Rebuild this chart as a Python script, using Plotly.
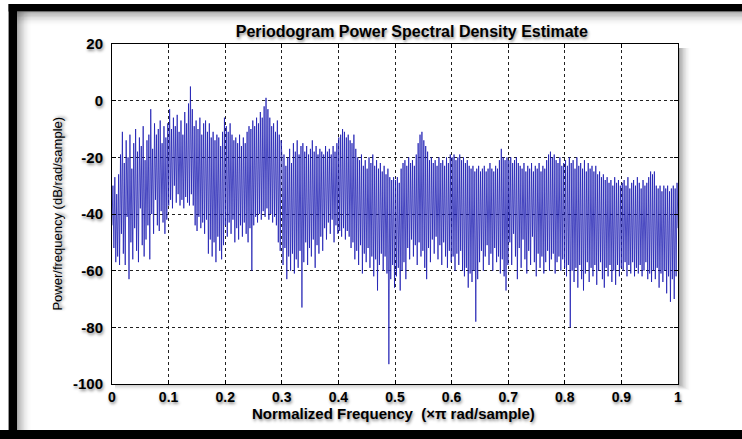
import numpy as np
import plotly.graph_objects as go

# Periodogram PSD estimate (dB/rad/sample), one list per 0.1 band of normalized frequency
psd_band_0 = [-44, -30, -52, -27, -57, -33, -55, -26, -58, -19,
              -47, -11, -54, -22, -58, -14, -41, -20, -63, -12,
              -50, -24, -56, -15, -45, -10, -53, -18, -57, -13,
              -38, -16, -51, -9, -55, -21, -49, -14, -44, -12,
              -56, -3, -40, -17, -47, -8, -35, -12, -44, -10,
              -46, -7, -39, -15, -43, -9, -47, -13, -42, -8]
psd_band_1 = [-37, -3, -35, -10, -38, -6, -30, -9, -36, -5,
              -33, -11, -37, -7, -35, -12, -38, -4, -34, -8,
              -36, -1, -37, 5, -33, -3, -37, -9, -44, -7,
              -46, -10, -41, -6, -45, -12, -43, -8, -47, -7,
              -42, -11, -54, -8, -49, -13, -55, -11, -50, -14,
              -57, -12, -48, -13, -53, -16, -56, -11, -51, -6]
psd_band_2 = [-44, -9, -48, -11, -43, -8, -47, -12, -42, -14,
              -50, -13, -45, -15, -49, -12, -44, -16, -48, -13,
              -43, -15, -47, -11, -50, -9, -45, -10, -60, -7,
              -44, -9, -41, -6, -43, -8, -40, -4, -42, -6,
              -39, -2, -41, 1, -38, -3, -42, -6, -40, -9,
              -43, -8, -41, -11, -44, -7, -50, -12, -53, -14]
psd_band_3 = [-21, -58, -19, -52, -23, -63, -20, -55, -17, -60,
              -22, -54, -15, -61, -18, -56, -14, -59, -19, -53,
              -16, -73, -15, -57, -18, -50, -16, -58, -19, -52,
              -17, -55, -14, -49, -18, -59, -16, -51, -19, -54,
              -17, -48, -18, -53, -19, -45, -16, -49, -18, -43,
              -17, -47, -19, -42, -16, -50, -18, -44, -15, -47]
psd_band_4 = [-13, -46, -12, -48, -10, -45, -11, -49, -13, -46,
              -12, -48, -14, -52, -15, -50, -12, -56, -17, -53,
              -20, -58, -21, -51, -19, -61, -23, -54, -21, -57,
              -24, -52, -20, -59, -22, -55, -19, -62, -23, -56,
              -21, -67, -24, -58, -22, -54, -25, -60, -23, -55,
              -26, -61, -24, -93, -27, -63, -28, -58, -27, -66]
psd_band_5 = [-28, -62, -27, -59, -29, -67, -24, -60, -22, -57,
              -21, -63, -23, -52, -20, -56, -22, -49, -21, -55,
              -23, -51, -19, -58, -15, -50, -12, -55, -11, -53,
              -14, -59, -16, -63, -18, -52, -21, -57, -20, -49,
              -22, -54, -21, -48, -23, -56, -20, -51, -22, -58,
              -21, -50, -23, -55, -20, -59, -22, -53, -19, -57]
psd_band_6 = [-20, -55, -19, -60, -21, -54, -20, -58, -19, -53,
              -21, -60, -20, -62, -22, -59, -21, -66, -23, -61,
              -24, -64, -23, -60, -25, -78, -24, -63, -23, -57,
              -25, -53, -24, -60, -23, -55, -25, -51, -24, -58,
              -22, -54, -24, -60, -25, -52, -23, -57, -24, -55,
              -21, -61, -17, -56, -20, -62, -21, -67, -20, -58]
psd_band_7 = [-21, -50, -20, -58, -22, -47, -21, -55, -20, -63,
              -22, -52, -23, -59, -24, -49, -22, -56, -25, -61,
              -23, -53, -24, -58, -22, -48, -25, -57, -23, -62,
              -24, -54, -22, -59, -25, -55, -23, -61, -24, -57,
              -21, -53, -19, -60, -18, -56, -20, -54, -19, -61,
              -21, -57, -22, -55, -20, -60, -23, -56, -22, -59]
psd_band_8 = [-21, -62, -23, -58, -20, -80, -22, -60, -21, -64,
              -24, -59, -20, -66, -23, -58, -22, -63, -24, -67,
              -21, -61, -25, -57, -22, -64, -24, -59, -23, -62,
              -25, -58, -23, -65, -26, -60, -25, -57, -27, -63,
              -26, -66, -28, -59, -27, -62, -29, -58, -28, -64,
              -30, -60, -27, -65, -29, -58, -28, -62, -30, -59]
psd_band_9 = [-29, -60, -28, -57, -30, -62, -27, -58, -31, -61,
              -29, -57, -28, -62, -30, -59, -27, -61, -29, -58,
              -31, -62, -28, -60, -30, -57, -29, -63, -27, -61,
              -25, -64, -26, -60, -25, -63, -30, -59, -31, -66,
              -30, -61, -32, -64, -30, -60, -31, -68, -30, -62,
              -32, -71, -31, -63, -30, -70, -31, -62, -29, -45]

y_ticks = [-100, -80, -60, -40, -20, 0, 20]
x_ticks = [0, 0.1, 0.2, 0.3, 0.4, 0.5, 0.6, 0.7, 0.8, 0.9, 1]

psd = np.array(psd_band_0 + psd_band_1 + psd_band_2 + psd_band_3 + psd_band_4
               + psd_band_5 + psd_band_6 + psd_band_7 + psd_band_8 + psd_band_9,
               dtype=float)
freq = np.linspace(0, 1, len(psd))

# Page / axes geometry in pixels
WIDTH, HEIGHT = 742, 439
AX_L, AX_R, AX_T, AX_B = 111.5, 678, 44, 384


def px(x):
    return (x - AX_L) / (AX_R - AX_L)


def py(y):
    return (AX_B - y) / (AX_B - AX_T)


FONT = "Liberation Sans, Arial, sans-serif"
TEXT_SHADOW = "1px 2px 3px rgba(0,0,0,0.45)"

fig = go.Figure()
fig.add_trace(go.Scatter(
    x=freq, y=psd, mode="lines",
    line=dict(color="#1717b0", width=0.75),
    hoverinfo="skip", showlegend=False,
))

shapes = []

# Soft shadow to the right of and below the axes box
for i in range(8):
    a = 0.09 * (1 - i / 8)
    shapes.append(dict(type="rect", xref="paper", yref="paper", layer="below",
                       x0=px(AX_R), x1=px(AX_R + 2 + i * 1.5),
                       y0=py(AX_B + 1 + i * 0.8), y1=py(AX_T + 4),
                       fillcolor=f"rgba(0,0,0,{a:.3f})", line_width=0))
    shapes.append(dict(type="rect", xref="paper", yref="paper", layer="below",
                       x0=px(AX_L + 3), x1=px(AX_R),
                       y0=py(AX_B + 1 + i * 0.8), y1=py(AX_B),
                       fillcolor=f"rgba(0,0,0,{a * 0.6:.3f})", line_width=0))

# Picture frame: black bars at top, left and bottom with inner shadows
shapes.append(dict(type="rect", xref="paper", yref="paper", layer="above",
                   x0=px(8), x1=px(WIDTH + 5), y0=py(4), y1=py(11.5),
                   fillcolor="black", line_width=0))
shapes.append(dict(type="rect", xref="paper", yref="paper", layer="above",
                   x0=px(8), x1=px(16.5), y0=py(430), y1=py(4),
                   fillcolor="black", line_width=0))
shapes.append(dict(type="rect", xref="paper", yref="paper", layer="above",
                   x0=px(-5), x1=px(WIDTH + 5), y0=py(HEIGHT + 5), y1=py(430),
                   fillcolor="black", line_width=0))
for i in range(10):
    a = 0.06 * (1 - i / 10)
    shapes.append(dict(type="rect", xref="paper", yref="paper", layer="below",
                       x0=px(16.5), x1=px(WIDTH + 5),
                       y0=py(11.5 + 1.4 * (i + 1)), y1=py(11.5),
                       fillcolor=f"rgba(0,0,0,{a:.3f})", line_width=0))
    shapes.append(dict(type="rect", xref="paper", yref="paper", layer="below",
                       x0=px(16.5), x1=px(16.5 + 1.4 * (i + 1)),
                       y0=py(430), y1=py(11.5),
                       fillcolor=f"rgba(0,0,0,{a:.3f})", line_width=0))

annotations = [
    dict(text="Normalized Frequency  (\u00d7\u03c0 rad/sample)",
         xref="paper", yref="paper", x=px(393), y=py(414),
         xanchor="center", yanchor="middle", showarrow=False,
         font=dict(family=FONT, size=15, color="black", weight="bold",
                   shadow=TEXT_SHADOW)),
    dict(text="Power/frequency (dB/rad/sample)",
         xref="paper", yref="paper", x=px(56), y=py(214),
         xanchor="center", yanchor="middle", showarrow=False, textangle=-90,
         font=dict(family=FONT, size=13, color="black",
                   shadow=TEXT_SHADOW)),
]

axis_common = dict(
    showline=True, linecolor="black", linewidth=1, mirror="ticks",
    ticks="inside", ticklen=4, tickcolor="black",
    showgrid=True, gridcolor="#222222", griddash="dot", gridwidth=1,
    zeroline=False, layer="above traces",
)

fig.update_layout(
    width=WIDTH, height=HEIGHT,
    margin=dict(l=AX_L, r=WIDTH - AX_R, t=AX_T, b=HEIGHT - AX_B, pad=0),
    paper_bgcolor="white", plot_bgcolor="white",
    title=dict(text="Periodogram Power Spectral Density Estimate",
               x=393 / WIDTH, xanchor="center", xref="paper",
               y=1 - 31 / HEIGHT, yanchor="middle", yref="container",
               font=dict(family=FONT, size=16, color="black", weight="bold",
                         shadow=TEXT_SHADOW)),
    xaxis=dict(range=[0, 1], tickvals=x_ticks,
               ticktext=[("%g" % v) for v in x_ticks], ticklabelstandoff=0,
               tickfont=dict(family=FONT, size=14, color="black",
                             weight="bold", shadow=TEXT_SHADOW),
               **axis_common),
    yaxis=dict(range=[-100, 20], tickvals=y_ticks,
               ticktext=[str(v) for v in y_ticks], ticklabelstandoff=5,
               tickfont=dict(family=FONT, size=15, color="black",
                             weight="bold", shadow=TEXT_SHADOW),
               **axis_common),
    shapes=shapes,
    annotations=annotations,
)

fig.write_html("out.html")
